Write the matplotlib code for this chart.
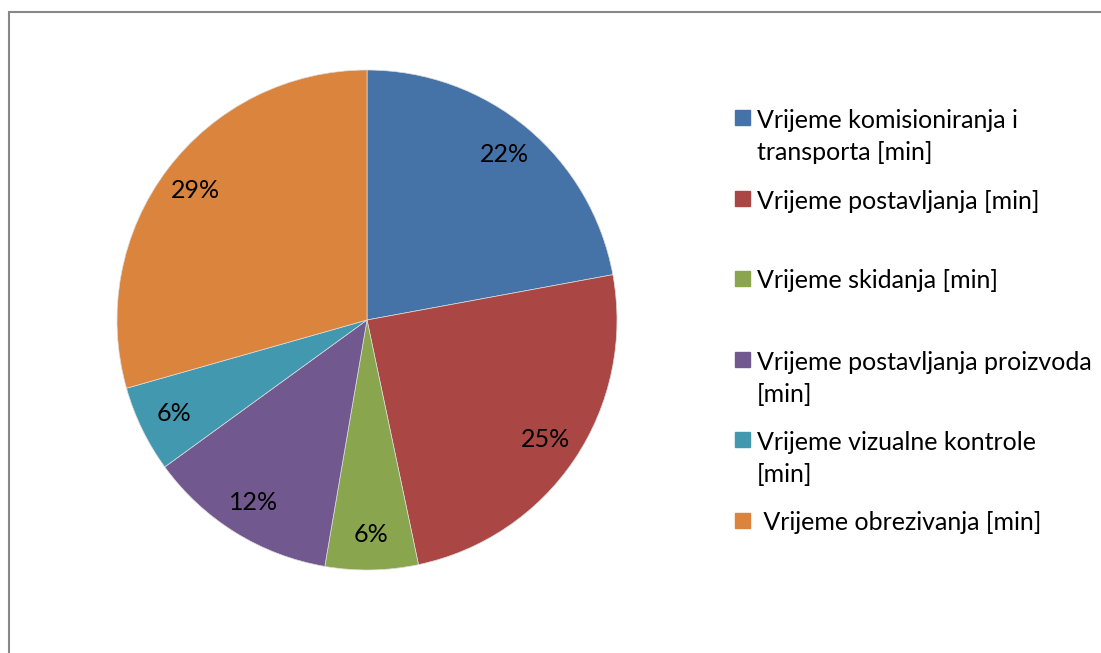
import matplotlib
matplotlib.use("Agg")
import matplotlib.pyplot as plt
from matplotlib.patches import Rectangle

plt.rcParams['font.family'] = ['Lato', 'DejaVu Sans']

# Data (shares)
labels = ['Vrijeme komisioniranja i\ntransporta [min]',
          'Vrijeme postavljanja [min]',
          'Vrijeme skidanja [min]',
          'Vrijeme postavljanja proizvoda\n[min]',
          'Vrijeme vizualne kontrole\n[min]',
          ' Vrijeme obrezivanja [min]']
values = [22.1, 24.6, 6.0, 12.3, 5.6, 29.4]
colors = ['#4572A7', '#AA4643', '#89A54E', '#71588F', '#4198AF', '#DB843D']

W, H = 1101, 653
fig = plt.figure(figsize=(W / 100, H / 100), dpi=100)

# outer chart frame (cut off at right and bottom)
fig.patches.append(Rectangle((9 / W, -0.1), 1.2, 1.1 - 12 / H, transform=fig.transFigure,
                             fill=False, edgecolor='#888888', linewidth=1.5))

ax = fig.add_axes([117 / W, 83 / H, 500 / W, 500 / H])
wedges, texts, autotexts = ax.pie(values, colors=colors, startangle=90, counterclock=False,
                                  autopct='%1.0f%%', pctdistance=0.86, radius=1,
                                  wedgeprops=dict(edgecolor='#dddddd', linewidth=0.5),
                                  textprops=dict(fontsize=18, color='black'))
ax.set_xlim(-1, 1)
ax.set_ylim(-1, 1)
ax.set_aspect('equal')

# legend drawn by hand to keep the uneven spacing
leg_y = [118, 199, 279, 360, 440, 521]
for lab, col, y in zip(labels, colors, leg_y):
    fig.patches.append(Rectangle((735 / W, 1 - (y + 7) / H), 15 / W, 15 / H,
                                 transform=fig.transFigure, color=col))
    for k, line in enumerate(lab.split('\n')):
        fig.text(757 / W, 1 - (y + 33 * k) / H, line, fontsize=18, va='center_baseline',
                 ha='left')

fig.savefig('out.png', dpi=100)
